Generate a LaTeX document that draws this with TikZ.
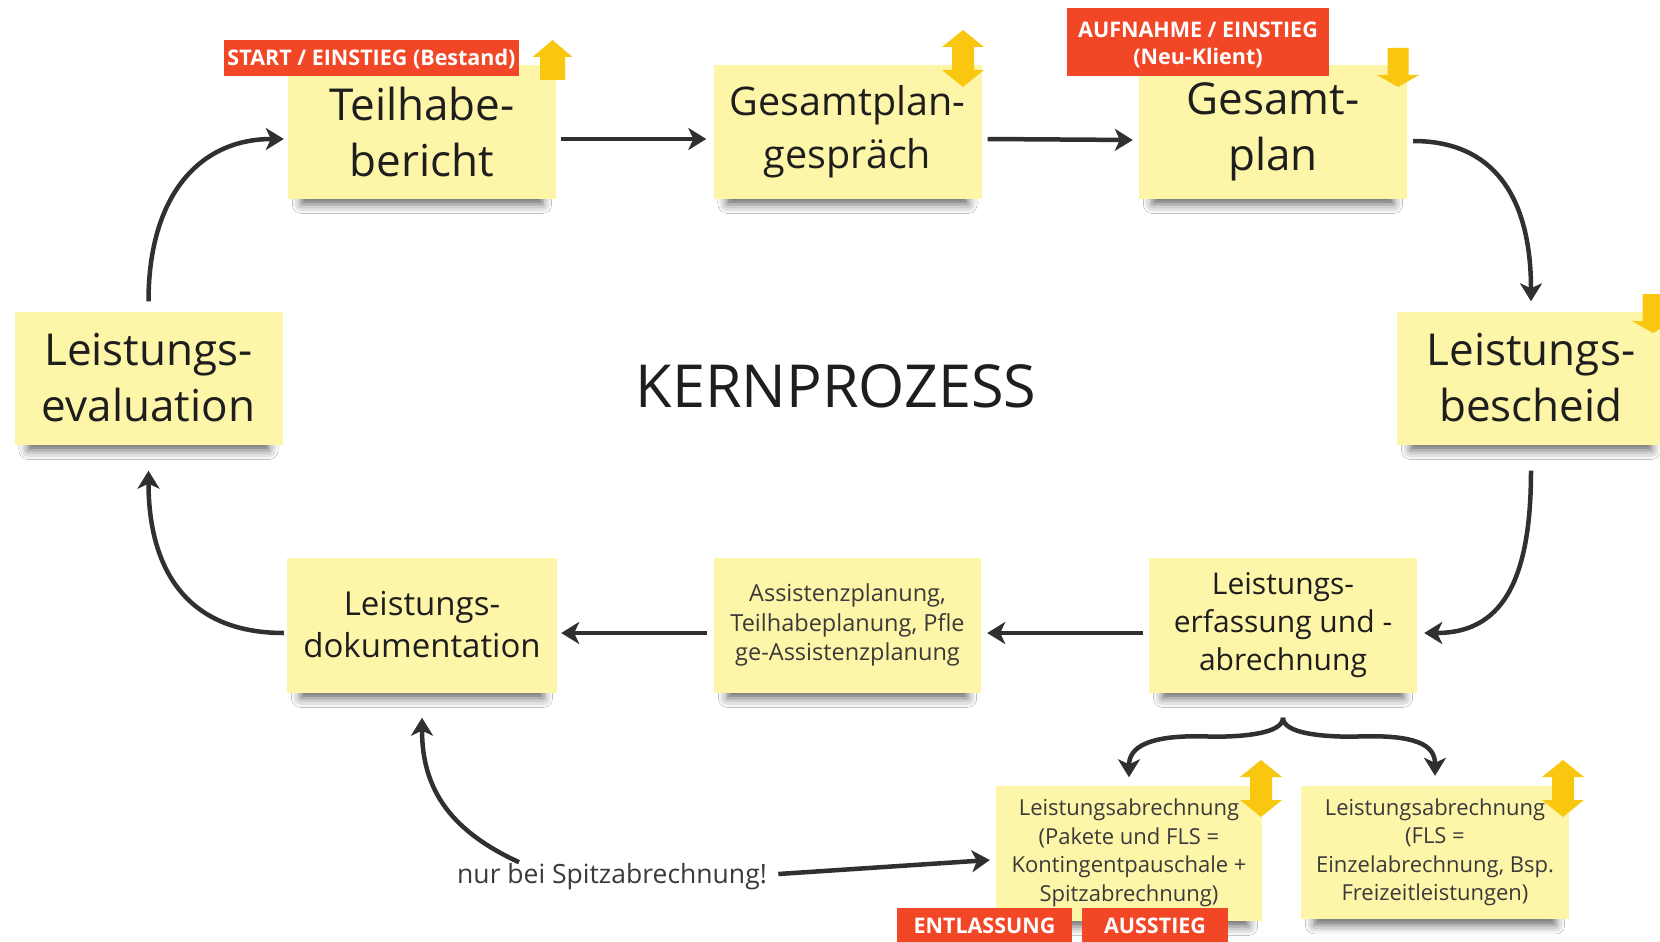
\documentclass[tikz,border=0pt]{standalone}
\usepackage{fontspec}
\setmainfont{Open Sans}
\usetikzlibrary{arrows.meta,shadows.blur,calc}
\definecolor{notey}{HTML}{FDF5A8}
\definecolor{lblred}{HTML}{F24726}
\definecolor{yarr}{HTML}{FAC710}
\definecolor{conn}{HTML}{303030}
\definecolor{txt}{HTML}{1E1E1E}
\definecolor{txtg}{HTML}{3A3A3A}
\newcommand\fsBig{\fontsize{44}{56}\selectfont}
\newcommand\fsGpg{\fontsize{39.5}{53}\selectfont}
\newcommand\fsDoku{\fontsize{33}{42}\selectfont}
\newcommand\fsErf{\fontsize{30}{38}\selectfont}
\newcommand\fsAss{\fontsize{23.5}{29.5}\selectfont}
\newcommand\fsLa{\fontsize{22}{28.5}\selectfont}
\newcommand\fsLbl{\bfseries\fontsize{21.5}{26.5}\selectfont}
\tikzset{
  note/.style={fill=notey, inner sep=0pt, align=center, text=txt,
    minimum width=268pt, minimum height=133pt,
    blur shadow={shadow xshift=0pt, shadow yshift=-14pt, shadow scale=0.9,
      shadow blur radius=10pt, shadow opacity=60}},
  lbl/.style={fill=lblred, text=white, inner xsep=0pt, align=center, font=\fsLbl},
  lblone/.style={lbl, text height=15.4pt, text depth=0pt},
  conn/.style={draw=conn, line width=4.5pt,
    -{Stealth[length=18pt,width=22pt,inset=5pt]}},
  yup/.pic={\fill[yarr] (0,0)--(20,17)--(12.5,17)--(12.5,40)--(-12.5,40)--(-12.5,17)--(-20,17)--cycle;},
  ydown/.pic={\fill[yarr] (-10.5,0)--(10.5,0)--(10.5,27)--(21,27)--(0,39)--(-21,27)--(-10.5,27)--cycle;},
  ydbl/.pic={\fill[yarr] (0,0)--(21,17)--(11,17)--(11,40)--(21,40)--(0,57)--(-21,40)--(-11,40)--(-11,17)--(-21,17)--cycle;}
}
\begin{document}
\begin{tikzpicture}[x=1pt,y=-1pt]
\fill[white] (0,0) rectangle (1660,942);
\useasboundingbox (0,0) rectangle (1660,942);

% notes
\node[note, font=\fsBig] (tb) at (422,132) {Teilhabe-\\bericht};
\node[note, font=\fsGpg] (gpg) at (847.5,132) {Gesamtplan-\\gespräch};
\node[note, font=\fsBig] (gp) at (1273,132) {Gesamt-\\plan};
\node[note, font=\fsBig] (lb) at (1531,378) {Leistungs-\\bescheid};
\node[note, font=\fsBig] (le) at (148.5,378) {Leistungs-\\evaluation};
\node[note, font=\fsDoku, minimum width=270pt, minimum height=135pt] (ld) at (422,625) {Leistungs-\\dokumentation};
\node[note, font=\fsAss, text=txtg, minimum width=267pt, minimum height=135pt] (as) at (847.5,625) {Assistenzplanung,\\Teilhabeplanung, Pfle\\ge-Assistenzplanung};
\node[note, font=\fsErf, minimum height=135pt] (lef) at (1283,625) {Leistungs-\\erfassung und -\\abrechnung};
\node[note, font=\fsLa, text=txtg, minimum width=266pt, minimum height=135pt] (la1) at (1129,853) {Leistungsabrechnung\\(Pakete und FLS =\\Kontingentpauschale +\\Spitzabrechnung)};
\node[note, font=\fsLa, text=txtg, minimum width=268pt, minimum height=133pt] (la2) at (1435,852.5) {Leistungsabrechnung\\(FLS =\\Einzelabrechnung, Bsp.\\Freizeitleistungen)};

% title
\node[text=txt, font={\fontsize{59.3}{62}\selectfont}] (kp) at (836,386) {KERNPROZESS};
\node[text=txtg, font={\fontsize{26.5}{30}\selectfont}] (spz) at (612,877) {nur bei Spitzabrechnung!};

% connectors
\draw[conn] ([xshift=5pt,yshift=-7pt]tb.east) -- ([xshift=-7pt,yshift=-7pt]gpg.west);
\draw[conn] ([xshift=6pt,yshift=-7pt]gpg.east) -- ([xshift=-6pt,yshift=-8pt]gp.west);
\draw[conn] ([xshift=6pt,yshift=-9pt]gp.east) .. controls +(80,0) and +(0,-105) .. ([yshift=10pt]lb.north);
\draw[conn] ([yshift=-26pt]lb.south) .. controls +(0,115) and +(75,0) .. ([xshift=7pt,yshift=-8pt]lef.east);
\draw[conn] ([xshift=-6pt,yshift=-8pt]lef.west) -- ([xshift=6pt,yshift=-8pt]as.east);
\draw[conn] ([xshift=-7pt,yshift=-8pt]as.west) -- ([xshift=4pt,yshift=-8pt]ld.east);
\draw[conn] ([xshift=-3pt,yshift=-8pt]ld.west) .. controls +(-100,0) and +(0,95) .. ([yshift=-26pt]le.south);
\draw[conn] ([yshift=10pt]le.north) .. controls +(0,-105) and +(-85,0) .. ([xshift=-4pt,yshift=-7pt]tb.west);
\draw[conn] ([xshift=-93pt,yshift=-2pt]spz.north) .. controls +(-65,-30) and +(0,75) .. ([yshift=-25pt]ld.south);
\draw[conn] ([xshift=8pt,yshift=3pt]spz.east) -- ([xshift=-6pt,yshift=-7pt]la1.west);

% brace
\coordinate (bt) at ([yshift=-25pt]lef.south);
\coordinate (bl) at ($(bt)+(-70,19)$);
\coordinate (br) at ($(bt)+(70,19)$);
\draw[conn] (bt) .. controls +(0,16) and +(30,0) .. (bl) .. controls +(-65,-3) and +(0,-30) .. ([yshift=8pt]la1.north);
\draw[conn] (bt) .. controls +(0,16) and +(-30,0) .. (br) .. controls +(65,-3) and +(0,-30) .. ([yshift=10pt]la2.north);

% labels
\node[lblone, minimum width=295pt, minimum height=36pt] (l1) at (371.5,58) {START / EINSTIEG (Bestand)};
\node[lbl, text height=44pt, text depth=0pt, minimum width=262pt, minimum height=68pt] (l2) at (1198,42) {AUFNAHME / EINSTIEG\\(Neu-Klient)};
\node[lblone, minimum width=175pt, minimum height=36pt] (l3) at (984.5,926) {ENTLASSUNG};
\node[lblone, minimum width=146pt, minimum height=36pt] (l4) at (1155,926) {AUSSTIEG};

% yellow arrows
\pic at (552.5,40) {yup};
\pic at (963,30) {ydbl};
\pic at (1398,48) {ydown};
\pic at (1653,294) {ydown};
\pic at (1261,760) {ydbl};
\pic at (1563,760) {ydbl};
\end{tikzpicture}
\end{document}
